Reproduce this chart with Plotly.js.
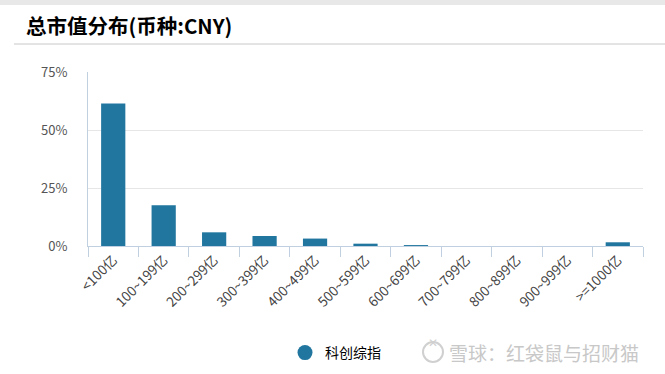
<!DOCTYPE html>
<html><head><meta charset="utf-8">
<script src="https://cdn.plot.ly/plotly-3.0.1.min.js"></script>
<style>body{margin:0;background:#fff}#c{width:665px;height:374px}</style>
</head><body><div id="c"></div>
<script>
const categories = ["<100亿","100~199亿","200~299亿","300~399亿","400~499亿","500~599亿","600~699亿","700~799亿","800~899亿","900~999亿",">=1000亿"];
const values = [61.4, 17.6, 5.9, 4.3, 3.2, 1.0, 0.4, 0, 0, 0, 1.6];
const seriesName = "科创综指";
const titleText = "总市值分布(币种:CNY)";
const watermark = "雪球：红袋鼠与招财猫";
const yTicks = [0, 25, 50, 75];

const barColor = "#21769f";
const data = [
  {type:"bar", x:categories, y:values, showlegend:false, hoverinfo:"none",
   marker:{color:barColor, line:{width:0}}},
  {type:"scatter", mode:"markers", x:[null], y:[null], name:seriesName,
   marker:{symbol:"circle", size:15, color:barColor}}
];
const font = "'Noto Sans CJK SC', 'DejaVu Sans', sans-serif";
const layout = {
  width:665, height:374,
  margin:{l:88, r:22, t:72, b:128},
  paper_bgcolor:"#fff", plot_bgcolor:"#fff",
  font:{family:font, color:"#333"},
  bargap:0.52,
  title:{text:"<b>"+titleText+"</b>", font:{size:20.5, color:"#000", family:font},
         xref:"container", x:26/665, xanchor:"left", yref:"container", y:1-27/374, yanchor:"middle"},
  xaxis:{type:"category", tickson:"boundaries", ticks:"outside", ticklen:10, tickcolor:"#c0d0e0",
         showline:true, linecolor:"#c0d0e0", linewidth:1, tickangle:-45,
         tickfont:{size:13.5, color:"#444", family:font}, showgrid:false, fixedrange:true},
  yaxis:{range:[0,75], tickvals:yTicks, ticktext:yTicks.map(v=>v+"%"), showgrid:true, gridcolor:"#e6e6e6",
         zeroline:false, showline:true, linecolor:"#c0d0e0", ticks:"", ticklabelstandoff:17,
         tickfont:{size:13, color:"#555", family:font}, fixedrange:true},
  legend:{orientation:"h", xref:"container", x:285/665, xanchor:"left", yref:"container", y:1-353/374, yanchor:"middle",
          font:{size:14, color:"#000", family:font}},
  shapes:[
    {type:"rect", xref:"paper", yref:"paper", x0:-0.2, x1:1.1, y0:1+67/174, y1:1.5, fillcolor:"#e8e8e8", line:{width:0}, layer:"below"},
    {type:"line", xref:"paper", yref:"paper", x0:(14-88)/555, x1:1.1, y0:1+28/174, y1:1+28/174, line:{color:"#c8c8c8", width:1}},
    {type:"circle", xref:"paper", yref:"paper", x0:(423-88)/555, x1:(443-88)/555, y0:(246-362)/174, y1:(246-342)/174, line:{color:"#d0d0d0", width:2}}
  ],
  annotations:[
    {text:"\u2715", xref:"paper", yref:"paper", x:(433-88)/555, y:(246-352)/174, showarrow:false, font:{size:12, color:"#d0d0d0"}},
    {text:watermark, xref:"paper", yref:"paper", x:(447-88)/555, xanchor:"left", y:(246-352)/174, yanchor:"middle", showarrow:false,
     font:{size:19, color:"#c8c8c8", family:font}}
  ]
};
Plotly.newPlot("c", data, layout, {displayModeBar:false, staticPlot:true});
</script></body></html>
